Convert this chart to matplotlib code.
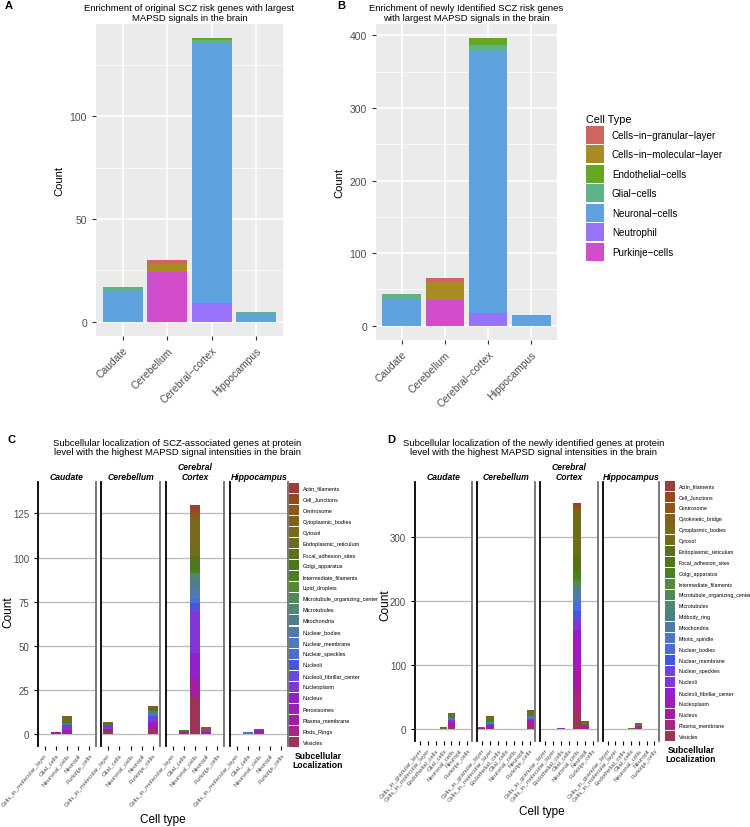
import numpy as np
import matplotlib
matplotlib.use("Agg")
import matplotlib.pyplot as plt
from matplotlib.patches import Patch

plt.rcParams['font.family'] = ['Liberation Sans', 'DejaVu Sans']

M = "\u2212"  # ggplot draws "-" as a minus sign

# ── data: panels A / B ───────────────────────────────────────────────────────
regions = ["Caudate", "Cerebellum", f"Cerebral{M}cortex", "Hippocampus"]
cell_types = [f"Cells{M}in{M}granular{M}layer", f"Cells{M}in{M}molecular{M}layer",
              f"Endothelial{M}cells", f"Glial{M}cells", f"Neuronal{M}cells",
              "Neutrophil", f"Purkinje{M}cells"]
cell_colors = ["#D2645F", "#A88C22", "#65A81E", "#5DB487", "#5EA3E0", "#9673F8", "#D24CCB"]

# counts per cell type, in region order
a_granular    = [0, 2, 0, 0]
a_molecular   = [0, 4, 0, 0]
a_endothelial = [0, 0, 1, 0]
a_glial       = [2, 0, 2, 1]
a_neuronal    = [15, 0, 126, 4]
a_neutrophil  = [0, 0, 9, 0]
a_purkinje    = [0, 24, 0, 0]

b_granular    = [0, 6, 0, 0]
b_molecular   = [0, 25, 0, 0]
b_endothelial = [0, 0, 9, 0]
b_glial       = [8, 0, 8, 2]
b_neuronal    = [35, 0, 361, 13]
b_neutrophil  = [0, 0, 18, 0]
b_purkinje    = [0, 35, 0, 0]

# ── data: panels C / D ───────────────────────────────────────────────────────
facet_names = ["Caudate", "Cerebellum", "Cerebral\nCortex", "Hippocampus"]

c_cells = ["Cells_in_molecular_layer", "Glial_cells", "Neuronal_cells",
           "Neuropil", "Purkinje_cells"]
c_locs = ["Actin_filaments", "Cell_Junctions", "Centrosome", "Cytoplasmic_bodies",
          "Cytosol", "Endoplasmic_reticulum", "Focal_adhesion_sites", "Golgi_apparatus",
          "Intermediate_filaments", "Lipid_droplets", "Microtubule_organizing_center",
          "Microtubules", "Mitochondria", "Nuclear_bodies", "Nuclear_membrane",
          "Nuclear_speckles", "Nucleoli", "Nucleoli_fibrillar_center", "Nucleoplasm",
          "Nucleus", "Peroxisomes", "Plasma_membrane", "Rods_Rings", "Vesicles"]

c_caudate = {
    "Glial_cells": {"Plasma_membrane": 1},
    "Neuronal_cells": {"Plasma_membrane": 1, "Nucleus": 1, "Nucleoplasm": 3,
                       "Nuclear_bodies": 1, "Golgi_apparatus": 1, "Cytosol": 3},
}
c_cerebellum = {
    "Cells_in_molecular_layer": {"Vesicles": 2, "Plasma_membrane": 1, "Nucleoplasm": 2,
                                 "Golgi_apparatus": 1, "Cytosol": 1},
    "Purkinje_cells": {"Vesicles": 3, "Plasma_membrane": 2, "Nucleus": 2, "Nucleoplasm": 2,
                       "Nucleoli": 1, "Nuclear_speckles": 1, "Nuclear_bodies": 1,
                       "Mitochondria": 1, "Golgi_apparatus": 1, "Cytosol": 1, "Centrosome": 1},
}
c_cortex = {
    "Glial_cells": {"Plasma_membrane": 1, "Golgi_apparatus": 1},
    "Neuronal_cells": {"Vesicles": 21, "Plasma_membrane": 11, "Nucleus": 14, "Nucleoplasm": 23,
                       "Nucleoli_fibrillar_center": 2, "Nucleoli": 3, "Nuclear_speckles": 3,
                       "Nuclear_membrane": 2, "Nuclear_bodies": 5, "Mitochondria": 4,
                       "Microtubules": 2, "Microtubule_organizing_center": 1,
                       "Intermediate_filaments": 2, "Golgi_apparatus": 6,
                       "Focal_adhesion_sites": 2, "Endoplasmic_reticulum": 5, "Cytosol": 15,
                       "Cytoplasmic_bodies": 2, "Centrosome": 3, "Cell_Junctions": 2,
                       "Actin_filaments": 2},
    "Neuropil": {"Plasma_membrane": 1, "Nucleoplasm": 1, "Cytosol": 1, "Centrosome": 1},
}
c_hippocampus = {
    "Glial_cells": {"Nuclear_bodies": 1},
    "Neuronal_cells": {"Plasma_membrane": 1, "Nucleus": 1, "Nucleoli": 1},
}

d_cells = ["Cells_in_granular_layer", "Cells_in_molecular_layer", "Endothelial_cells",
           "Glial_cells", "Neuronal_cells", "Neuropil", "Purkinje_cells"]
d_locs = ["Actin_filaments", "Cell_Junctions", "Centrosome", "Cytokinetic_bridge",
          "Cytoplasmic_bodies", "Cytosol", "Endoplasmic_reticulum", "Focal_adhesion_sites",
          "Golgi_apparatus", "Intermediate_filaments", "Microtubule_organizing_center",
          "Microtubules", "Midbody_ring", "Mitochondria", "Mitotic_spindle", "Nuclear_bodies",
          "Nuclear_membrane", "Nuclear_speckles", "Nucleoli", "Nucleoli_fibrillar_center",
          "Nucleoplasm", "Nucleus", "Plasma_membrane", "Vesicles"]

d_caudate = {
    "Glial_cells": {"Nucleoplasm": 1, "Golgi_apparatus": 1, "Cytosol": 1},
    "Neuronal_cells": {"Vesicles": 2, "Plasma_membrane": 3, "Nucleus": 3, "Nucleoplasm": 4,
                       "Nucleoli": 2, "Nuclear_speckles": 1, "Nuclear_bodies": 1,
                       "Mitochondria": 2, "Golgi_apparatus": 2, "Endoplasmic_reticulum": 1,
                       "Cytosol": 5},
}
d_cerebellum = {
    "Cells_in_granular_layer": {"Vesicles": 1, "Nucleoplasm": 1, "Golgi_apparatus": 1,
                                "Cytosol": 1},
    "Cells_in_molecular_layer": {"Plasma_membrane": 2, "Nucleus": 2, "Nucleoplasm": 3,
                                 "Nuclear_membrane": 1, "Nuclear_bodies": 2, "Mitochondria": 2,
                                 "Golgi_apparatus": 2, "Cytosol": 5, "Centrosome": 1},
    "Purkinje_cells": {"Vesicles": 3, "Plasma_membrane": 4, "Nucleus": 3, "Nucleoplasm": 4,
                       "Nucleoli": 2, "Nuclear_bodies": 2, "Mitochondria": 2,
                       "Golgi_apparatus": 2, "Cytosol": 6, "Centrosome": 2},
}
d_cortex = {
    "Endothelial_cells": {"Nucleoplasm": 1, "Nucleoli": 1},
    "Neuronal_cells": {"Vesicles": 29, "Plasma_membrane": 32, "Nucleus": 36, "Nucleoplasm": 48,
                       "Nucleoli_fibrillar_center": 10, "Nucleoli": 14, "Nuclear_speckles": 8,
                       "Nuclear_membrane": 8, "Nuclear_bodies": 14, "Mitotic_spindle": 3,
                       "Mitochondria": 16, "Midbody_ring": 2, "Microtubules": 4,
                       "Microtubule_organizing_center": 5, "Intermediate_filaments": 5,
                       "Golgi_apparatus": 12, "Focal_adhesion_sites": 5,
                       "Endoplasmic_reticulum": 22, "Cytosol": 62, "Cytoplasmic_bodies": 6,
                       "Cytokinetic_bridge": 2, "Centrosome": 4, "Cell_Junctions": 4,
                       "Actin_filaments": 2},
    "Neuropil": {"Plasma_membrane": 2, "Nucleus": 2, "Nucleoplasm": 2, "Nuclear_bodies": 1,
                 "Golgi_apparatus": 2, "Cytosol": 3, "Centrosome": 1},
}
d_hippocampus = {
    "Glial_cells": {"Golgi_apparatus": 1, "Cytosol": 1},
    "Neuronal_cells": {"Plasma_membrane": 2, "Nucleus": 2, "Nucleoplasm": 1,
                       "Golgi_apparatus": 1, "Cytosol": 3, "Centrosome": 1},
}

loc_colors = ["#9C3D3D", "#964A1A", "#8E561E", "#82611E", "#786A1C", "#6C6E1C",
              "#5C701C", "#4C781A", "#4A801E", "#528A38", "#4E8A56", "#4E8870",
              "#4C8088", "#4C7CA8", "#4C78C4", "#4A6ED4", "#4658DA", "#6A48DA",
              "#8236D4", "#9420CA", "#A01EB8", "#A41CA0", "#A42880", "#9C3458"]

# ── layout helpers (pixel boxes on a 750x828 canvas) ─────────────────────────
W, H = 750, 828
fig = plt.figure(figsize=(W / 100, H / 100), dpi=100)
PT = 72 / 100  # points per pixel


def box(l, t, r, b):
    return [l / W, 1 - b / H, (r - l) / W, (b - t) / H]


def fx(x):
    return x / W


def fy(y):
    return 1 - y / H


def key_legend(handles, labels, x, y, fs, key_px, row_px, gap_px, **kw):
    # matplotlib's patch height = fs*(0.65*hh + 0.245); solve for the sizes we want
    key_pt, row_pt = key_px * PT, row_px * PT
    hh = (key_pt / fs - 0.245) / 0.65
    return fig.legend(handles, labels, loc="upper left", bbox_to_anchor=(fx(x), fy(y)),
                      fontsize=fs, frameon=False, handlelength=key_pt / fs,
                      handleheight=hh, labelspacing=(row_pt - key_pt) / fs,
                      handletextpad=gap_px * PT / fs, borderaxespad=0, borderpad=0, **kw)


# ── A / B: stacked counts by region ──────────────────────────────────────────
def draw_counts(ax, series, title, major, minor):
    ax.set_facecolor("#EBEBEB")
    x = np.arange(len(regions))
    bottom = np.zeros(len(regions))
    for vals, col in reversed(list(zip(series, cell_colors))):
        v = np.array(vals, float)
        ax.bar(x, v, 0.9, bottom=bottom, color=col, zorder=3)
        bottom += v
    top = bottom.max()
    ax.set_xlim(-0.6, len(regions) - 0.4)
    ax.set_ylim(-0.05 * top, 1.05 * top)
    ax.set_yticks(major)
    ax.set_yticks(minor, minor=True)
    ax.grid(which="major", color="white", lw=1.1)
    ax.grid(which="minor", axis="y", color="white", lw=0.5)
    ax.set_axisbelow(True)
    for s in ax.spines.values():
        s.set_visible(False)
    ax.set_xticks(x, regions, rotation=45, ha="right", rotation_mode="anchor")
    ax.tick_params(which="major", length=3, width=0.8, color="#333333",
                   labelsize=7.5, labelcolor="#4D4D4D")
    ax.tick_params(which="minor", length=0)
    ax.set_ylabel("Count", fontsize=8)
    ax.set_title(title, fontsize=6.8, pad=3, linespacing=1.05)


ax_a = fig.add_axes(box(96, 25, 283, 337))
draw_counts(ax_a, [a_granular, a_molecular, a_endothelial, a_glial, a_neuronal,
                   a_neutrophil, a_purkinje],
            "Enrichment of original SCZ risk genes with largest\nMAPSD signals in the brain",
            [0, 50, 100], [25, 75, 125])

ax_b = fig.add_axes(box(376, 25, 557, 341))
draw_counts(ax_b, [b_granular, b_molecular, b_endothelial, b_glial, b_neuronal,
                   b_neutrophil, b_purkinje],
            "Enrichment of newly Identified SCZ risk genes\nwith largest MAPSD signals in the brain",
            [0, 100, 200, 300, 400], [50, 150, 250, 350])

handles = [Patch(facecolor=c, edgecolor="none") for c in cell_colors]
key_legend(handles, cell_types, 586, 115, 7.1, 18, 19.5, 8,
           title="Cell Type", title_fontsize=7.8, alignment="left")

fig.text(fx(5), fy(6), "A", fontsize=8, fontweight="bold", va="center")
fig.text(fx(337), fy(6), "B", fontsize=8, fontweight="bold", va="center")


# ── C / D: faceted stacked subcellular localization ──────────────────────────
def draw_facets(xspans, top_px, bot_px, facets, cells, locs, yticks):
    totals = [sum(sum(d.get(c, {}).values()) for c in cells) for d in facets]
    ymax = max(totals)
    for i, ((l, r), data, name) in enumerate(zip(xspans, facets, facet_names)):
        ax = fig.add_axes(box(l, top_px, r, bot_px))
        x = np.arange(len(cells))
        bottom = np.zeros(len(cells))
        for loc, col in reversed(list(zip(locs, loc_colors))):
            v = np.array([data.get(c, {}).get(loc, 0) for c in cells], float)
            if v.any():
                ax.bar(x, v, 0.9, bottom=bottom, color=col, zorder=3)
            bottom += v
        ax.set_xlim(-0.6, len(cells) - 0.4)
        ax.set_ylim(-0.05 * ymax, 1.05 * ymax)
        ax.set_yticks(yticks)
        ax.grid(axis="y", color="#BDBDBD", lw=1.0)
        ax.set_axisbelow(True)
        ax.spines["top"].set_visible(False)
        ax.spines["bottom"].set_visible(False)
        ax.spines["left"].set_color("black")
        ax.spines["left"].set_linewidth(1.3)
        ax.spines["right"].set_color("#6E6E6E")
        ax.spines["right"].set_linewidth(1.3)
        ax.set_xticks(x, cells, rotation=50, ha="right", rotation_mode="anchor")
        ax.tick_params(axis="x", length=3, width=0.8, color="black",
                       labelsize=4.3, labelcolor="#4D4D4D", pad=1.5)
        if i == 0:
            ax.tick_params(axis="y", length=3, width=0.8, labelsize=7, labelcolor="#4D4D4D")
        else:
            ax.tick_params(axis="y", length=0, labelleft=False)
        ax.set_title(name, fontsize=6.2, fontweight="bold", fontstyle="italic",
                     pad=2.5, linespacing=1.05)


draw_facets([(38, 96), (101, 160), (166, 224), (230, 288)], 483, 747,
            [c_caudate, c_cerebellum, c_cortex, c_hippocampus],
            c_cells, c_locs, [0, 25, 50, 75, 100, 125])
draw_facets([(415, 472), (477, 535), (540, 598), (603, 659)], 483, 742,
            [d_caudate, d_cerebellum, d_cortex, d_hippocampus],
            d_cells, d_locs, [0, 100, 200, 300])

loc_handles = [Patch(facecolor=c, edgecolor="none") for c in loc_colors]
key_legend(loc_handles, c_locs, 289, 484, 4.0, 10, 11.04, 3.5)
key_legend(loc_handles, d_locs, 665, 482, 3.8, 10, 10.87, 3.5)

fig.text(fx(318), fy(761), "Subcellular\nLocalization", fontsize=6.2, fontweight="bold",
         ha="center", va="center", linespacing=1.1)
fig.text(fx(691), fy(755), "Subcellular\nLocalization", fontsize=6.2, fontweight="bold",
         ha="center", va="center", linespacing=1.1)

fig.text(fx(177), fy(448),
         "Subcellular localization of SCZ-associated genes at protein\n"
         "level with the highest MAPSD signal intensities in the brain",
         fontsize=6.8, ha="center", va="center", linespacing=1.1)
fig.text(fx(534), fy(448),
         "Subcellular localization of the newly identified genes at protein\n"
         "level with the highest MAPSD signal intensities in the brain",
         fontsize=6.8, ha="center", va="center", linespacing=1.1)

fig.text(fx(8), fy(612), "Count", fontsize=8.5, rotation=90, ha="center", va="center")
fig.text(fx(385), fy(605), "Count", fontsize=8.5, rotation=90, ha="center", va="center")
fig.text(fx(163), fy(820), "Cell type", fontsize=8.5, ha="center", va="center")
fig.text(fx(542), fy(812), "Cell type", fontsize=8.5, ha="center", va="center")

fig.text(fx(7), fy(440), "C", fontsize=8, fontweight="bold", va="center")
fig.text(fx(387), fy(440), "D", fontsize=8, fontweight="bold", va="center")

fig.savefig("out.png", dpi=100)
